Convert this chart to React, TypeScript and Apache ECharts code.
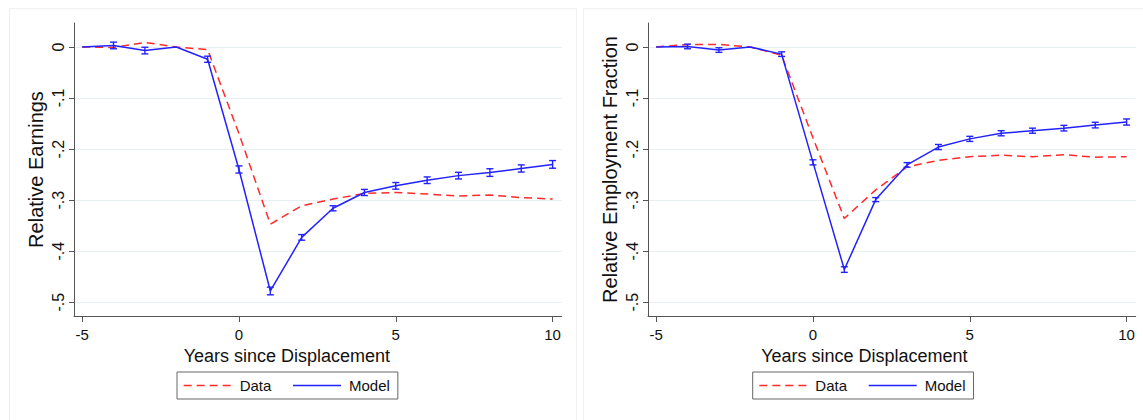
import React, { useEffect, useRef } from "react";
import * as echarts from "echarts";

const years = [-5, -4, -3, -2, -1, 0, 1, 2, 3, 4, 5, 6, 7, 8, 9, 10];

const earningsData = [0, -0.001, 0.009, 0, -0.005, -0.17, -0.347, -0.311, -0.298, -0.287, -0.285, -0.288, -0.292, -0.29, -0.295, -0.298];
const earningsModel = [0, 0.003, -0.007, 0, -0.024, -0.24, -0.478, -0.373, -0.316, -0.285, -0.272, -0.261, -0.252, -0.246, -0.238, -0.23];
const earningsErr = [0, 0.0065, 0.0065, 0, 0.006, 0.007, 0.0075, 0.0055, 0.005, 0.006, 0.0065, 0.0065, 0.0065, 0.0075, 0.007, 0.0075];

const employmentData = [0, 0.005, 0.005, 0, -0.016, -0.178, -0.336, -0.28, -0.235, -0.222, -0.215, -0.212, -0.215, -0.211, -0.216, -0.215];
const employmentModel = [0, 0.001, -0.006, 0, -0.014, -0.226, -0.436, -0.299, -0.231, -0.196, -0.18, -0.169, -0.164, -0.159, -0.153, -0.147];
const employmentErr = [0, 0.0045, 0.0045, 0, 0.0045, 0.005, 0.0055, 0.004, 0.0045, 0.005, 0.005, 0.005, 0.005, 0.0055, 0.0055, 0.006];

const xTicks = [-5, 0, 5, 10];
const yTicks = [0, -0.1, -0.2, -0.3, -0.4, -0.5];
const legendNames = ["Data", "Model"];
const yTitles = ["Relative Earnings", "Relative Employment Fraction"];
const xTitle = "Years since Displacement";

const RED = "#ff2a2a";
const BLUE = "#2222ff";
const FONT = "Liberation Sans, Arial, sans-serif";

function fmtY(v: number) {
  if (v === 0) return "0";
  return String(v).replace("0.", ".");
}

function pairs(vals: number[]) {
  return years.map((x, i) => [x, vals[i]]);
}

function errPairs(vals: number[], err: number[]) {
  return years
    .map((x, i) => [x, vals[i] - err[i], vals[i] + err[i], err[i]])
    .filter((d) => d[3] > 0);
}

export default function App() {
  const ref = useRef<HTMLDivElement>(null);
  useEffect(() => {
    if (!ref.current) return;
    const chart = echarts.init(ref.current, null, { renderer: "svg" });

    const grids = [
      { left: 74, top: 23, width: 487.7, height: 293 },
      { left: 648, top: 23, width: 487.7, height: 293 },
    ];
    const namePad = [62, 55];

    const xAxes = grids.map((_, i) => ({
      type: "value",
      gridIndex: i,
      min: -5.26,
      max: 10.29,
      name: xTitle,
      nameLocation: "middle",
      nameGap: 26,
      nameTextStyle: { fontSize: 18, color: "#111", fontFamily: FONT, padding: [0, namePad[i], 0, 0] },
      axisLine: { show: true, onZero: false, lineStyle: { color: "#555", width: 1 } },
      axisTick: { show: true, length: 6, customValues: xTicks, lineStyle: { color: "#555" } },
      axisLabel: { customValues: xTicks, fontSize: 15, color: "#111", margin: 11, fontFamily: FONT, hideOverlap: false },
      splitLine: { show: false },
    }));

    const yAxes = grids.map((_, i) => ({
      type: "value",
      gridIndex: i,
      min: -0.527,
      max: 0.047,
      name: yTitles[i],
      nameLocation: "middle",
      nameGap: 28,
      nameTextStyle: { fontSize: 20, color: "#111", fontFamily: FONT },
      axisLine: { show: true, onZero: false, lineStyle: { color: "#555", width: 1 } },
      axisTick: { show: true, length: 5, customValues: yTicks, lineStyle: { color: "#555" } },
      axisLabel: {
        customValues: yTicks,
        rotate: 90,
        fontSize: 16,
        color: "#111",
        margin: 8,
        fontFamily: FONT,
        formatter: (v: number) => fmtY(v),
        hideOverlap: false,
      },
      splitLine: { show: true, lineStyle: { color: "#e6eff2", width: 1 } },
    }));

    const errRender = (params: any, api: any) => {
      const x = api.value(0);
      const lo = api.coord([x, api.value(1)]);
      const hi = api.coord([x, api.value(2)]);
      const w = 3.5;
      const style = { stroke: BLUE, lineWidth: 1.4 };
      return {
        type: "group",
        children: [
          { type: "line", shape: { x1: lo[0], y1: lo[1], x2: hi[0], y2: hi[1] }, style },
          { type: "line", shape: { x1: lo[0] - w, y1: lo[1], x2: lo[0] + w, y2: lo[1] }, style },
          { type: "line", shape: { x1: hi[0] - w, y1: hi[1], x2: hi[0] + w, y2: hi[1] }, style },
        ],
      };
    };

    const panels = [
      { data: earningsData, model: earningsModel, err: earningsErr },
      { data: employmentData, model: employmentModel, err: employmentErr },
    ];

    const series: any[] = [];
    panels.forEach((p, i) => {
      series.push({
        type: "line",
        name: legendNames[0],
        xAxisIndex: i,
        yAxisIndex: i,
        data: pairs(p.data),
        symbol: "none",
        lineStyle: { color: RED, width: 1.5, type: [8, 5] },
        itemStyle: { color: RED },
        z: 3,
      });
      series.push({
        type: "line",
        name: legendNames[1],
        xAxisIndex: i,
        yAxisIndex: i,
        data: pairs(p.model),
        symbol: "none",
        lineStyle: { color: BLUE, width: 1.5, type: "solid" },
        itemStyle: { color: BLUE },
        z: 4,
      });
      series.push({
        type: "custom",
        name: "err" + i,
        xAxisIndex: i,
        yAxisIndex: i,
        data: errPairs(p.model, p.err),
        encode: { x: 0, y: [1, 2] },
        renderItem: errRender,
        z: 5,
      });
    });

    const legendLefts = [177, 752.7];
    const legends = legendLefts.map((l) => ({
      data: legendNames,
      left: l,
      top: 372,
      orient: "horizontal",
      itemWidth: 48,
      itemHeight: 14,
      itemGap: 21,
      padding: [6, 8, 6, 6],
      borderColor: "#666",
      borderWidth: 1,
      borderRadius: 0,
      backgroundColor: "#fff",
      selectedMode: false,
      itemStyle: { opacity: 0, borderWidth: 0 },
      lineStyle: { width: 1.3 },
      textStyle: { fontSize: 15, color: "#111", fontFamily: FONT, padding: [0, 0, 0, 3] },
    }));

    chart.setOption({
      animation: false,
      backgroundColor: "#fff",
      textStyle: { fontFamily: FONT },
      grid: grids.map((g) => ({ ...g, containLabel: false, outerBoundsMode: "none" })),
      xAxis: xAxes,
      yAxis: yAxes,
      legend: legends,
      series,
      graphic: [
        { type: "rect", silent: true, z: -10, shape: { x: 9.5, y: 8.5, width: 567, height: 430 }, style: { fill: "none", stroke: "#f1f1f1", lineWidth: 1 } },
        { type: "rect", silent: true, z: -10, shape: { x: 583.5, y: 8.5, width: 600, height: 430 }, style: { fill: "none", stroke: "#f1f1f1", lineWidth: 1 } },
      ],
    });

    return () => chart.dispose();
  }, []);

  return (
    <div
      ref={ref}
      style={{ position: "absolute", left: 0, top: 0, width: 1143, height: 420 }}
    />
  );
}
